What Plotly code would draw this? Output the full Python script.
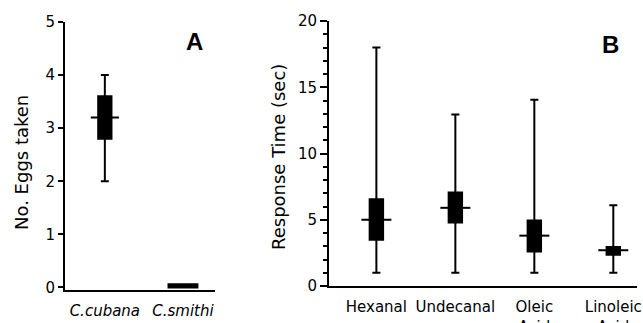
import plotly.graph_objects as go

# Panel A data
a_categories = ["C.cubana", "C.smithi"]
a_low = [2.0, 0.0]
a_q1 = [2.8, 0.0]
a_median = [3.2, 0.0]
a_q3 = [3.6, 0.06]
a_high = [4.0, 0.06]
a_ticks = [0, 1, 2, 3, 4, 5]

# Panel B data
b_categories = ["Hexanal", "Undecanal", "Oleic<br>Acid", "Linoleic<br>Acid"]
b_low = [1.0, 1.0, 1.0, 1.0]
b_q1 = [3.5, 4.8, 2.6, 2.35]
b_median = [5.0, 5.9, 3.8, 2.7]
b_q3 = [6.55, 7.05, 4.95, 2.95]
b_high = [18.0, 12.95, 14.05, 6.1]
b_ticks = [0, 5, 10, 15, 20]

FONT = "DejaVu Sans"
fig = go.Figure()

# Panel A boxes
a_x = list(range(len(a_categories)))
a_widths = [0.17, 0.37]
for i in a_x:
    fig.add_trace(go.Box(
        x=[i], q1=[a_q1[i]], median=[a_median[i]], q3=[a_q3[i]],
        lowerfence=[a_low[i]], upperfence=[a_high[i]],
        width=a_widths[i], whiskerwidth=0.6 if i == 0 else 0,
        fillcolor="black", line=dict(color="black", width=2),
        xaxis="x", yaxis="y", showlegend=False, hoverinfo="skip"))
# median line for C.cubana (extends beyond box)
fig.add_trace(go.Scatter(x=[a_x[0] - 0.18, a_x[0] + 0.18], y=[a_median[0]] * 2,
                         mode="lines", line=dict(color="black", width=2),
                         xaxis="x", yaxis="y", showlegend=False, hoverinfo="skip"))

# Panel B boxes
b_x = list(range(len(b_categories)))
for i in b_x:
    fig.add_trace(go.Box(
        x=[i], q1=[b_q1[i]], median=[b_median[i]], q3=[b_q3[i]],
        lowerfence=[b_low[i]], upperfence=[b_high[i]],
        width=0.17, whiskerwidth=0.6,
        fillcolor="black", line=dict(color="black", width=2),
        xaxis="x2", yaxis="y2", showlegend=False, hoverinfo="skip"))
    fig.add_trace(go.Scatter(x=[i - 0.19, i + 0.19], y=[b_median[i]] * 2,
                             mode="lines", line=dict(color="black", width=2),
                             xaxis="x2", yaxis="y2", showlegend=False, hoverinfo="skip"))

axis_common = dict(showline=True, linecolor="black", linewidth=2, showgrid=False,
                   zeroline=False, automargin=False,
                   tickfont=dict(family=FONT, size=15, color="black"))

fig.update_layout(
    width=643, height=323, margin=dict(l=0, r=0, t=0, b=0, pad=0),
    paper_bgcolor="white", plot_bgcolor="white",
    boxmode="overlay",
    xaxis=dict(domain=[65 / 643, 215 / 643], range=[-0.51, 1.41],
               tickvals=a_x, ticktext=[f"<i>{c}</i>" for c in a_categories],
               ticks="", ticklabelstandoff=6, anchor="y", **axis_common),
    yaxis=dict(domain=[1 - 289.6 / 323, 1 - 22 / 323], range=[-0.04, 5],
               tickvals=a_ticks, ticks="outside", ticklen=5, tickwidth=2,
               tickcolor="black", anchor="x", **axis_common),
    xaxis2=dict(domain=[329 / 643, 637 / 643], range=[-0.6, 3.3],
                tickvals=b_x, ticktext=b_categories,
                ticks="", ticklabelstandoff=6, anchor="y2", **axis_common),
    yaxis2=dict(domain=[1 - 286 / 323, 1 - 21 / 323], range=[0, 20],
                tickvals=b_ticks, ticks="outside", ticklen=7, tickwidth=2,
                tickcolor="black", anchor="x2",
                minor=dict(dtick=1, ticks="outside", ticklen=4, tickwidth=2,
                           tickcolor="black", showgrid=False),
                **axis_common),
    annotations=[
        dict(text="No. Eggs taken", x=21 / 643, y=1 - 163 / 323, xref="paper", yref="paper",
             xanchor="center", yanchor="middle",
             textangle=-90, showarrow=False, font=dict(family=FONT, size=18, color="black")),
        dict(text="Response Time (sec)", x=278 / 643, y=1 - 157 / 323, xref="paper", yref="paper",
             xanchor="center", yanchor="middle",
             textangle=-90, showarrow=False, font=dict(family=FONT, size=18, color="black")),
        dict(text="<b>A</b>", x=195 / 643, y=1 - 42 / 323, xref="paper", yref="paper",
             xanchor="center", yanchor="middle",
             showarrow=False, font=dict(family="Liberation Sans", size=24, color="black")),
        dict(text="<b>B</b>", x=610 / 643, y=1 - 44 / 323, xref="paper", yref="paper",
             xanchor="center", yanchor="middle",
             showarrow=False, font=dict(family="Liberation Sans", size=24, color="black")),
    ],
)

fig.write_html("out.html", config={"displayModeBar": False},
               post_script="document.body.style.margin='0px';document.body.style.overflow='hidden';")
